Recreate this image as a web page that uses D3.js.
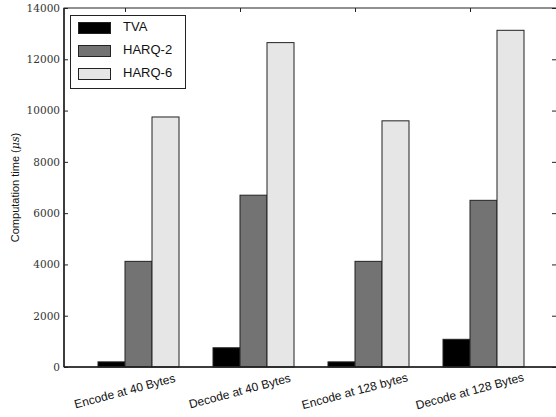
<!DOCTYPE html>
<html><head><meta charset="utf-8">
<script src="https://cdn.jsdelivr.net/npm/d3@7"></script>
<style>body{margin:0;background:#fff}svg{display:block}</style>
</head><body>
<svg id="c" width="556" height="417"></svg>
<script>
const categories = ["Encode at 40 Bytes","Decode at 40 Bytes","Encode at 128 bytes","Decode at 128 Bytes"];
const seriesNames = ["TVA","HARQ-2","HARQ-6"];
const tva   = [200, 750, 200, 1080];
const harq2 = [4120, 6700, 4120, 6500];
const harq6 = [9750, 12650, 9600, 13130];
const yTicks = [0,2000,4000,6000,8000,10000,12000,14000];
const colors = ["#000000","#737373","#e6e6e6"];
const series = [tva, harq2, harq6];

const svg = d3.select("#c");
const L = 64, R = 558, T = 8, B = 367;
const x = d3.scaleLinear().domain([0,3]).range([125,470]);
const bw = 0.2348; // bar width in category units
const y = d3.scaleLinear().domain([0,14000]).range([B,T]);

// bars
series.forEach((vals, s) => {
  svg.append("g").selectAll("rect").data(vals).join("rect")
    .attr("x", (d,i) => x(i + (s-1)*bw))
    .attr("width", x(bw) - x(0))
    .attr("y", d => y(d))
    .attr("height", d => y(0) - y(d))
    .attr("fill", colors[s])
    .attr("stroke", "#222")
    .attr("stroke-width", 1);
});

// frame
svg.append("rect").attr("x",L).attr("y",T).attr("width",R-L).attr("height",B-T)
  .attr("fill","none").attr("stroke","#222").attr("stroke-width",1);

// left axis
const ya = d3.axisLeft(y).tickValues(yTicks).tickSize(-4).tickPadding(4).tickFormat(d3.format("d"));
const gy = svg.append("g").attr("transform",`translate(${L},0)`).call(ya);
gy.select(".domain").remove();
gy.selectAll("line").attr("stroke","#222");
gy.selectAll("text").attr("font-family","'DejaVu Serif', serif").attr("font-size",10.5).attr("fill","#333");

// right ticks
const gr = svg.append("g").attr("transform",`translate(556,0)`).call(d3.axisRight(y).tickValues(yTicks).tickSize(-4).tickFormat(""));
gr.select(".domain").remove();
gr.selectAll("line").attr("stroke","#222");

// top ticks
const gt = svg.append("g").attr("transform",`translate(0,${T})`).call(d3.axisTop(x).tickValues([0,1,2,3]).tickSize(-4).tickFormat(""));
gt.select(".domain").remove();
gt.selectAll("line").attr("stroke","#222");

// bottom / left axis lines emphasised
svg.append("line").attr("x1",L).attr("x2",R).attr("y1",B).attr("y2",B).attr("stroke","#222").attr("stroke-width",1.5);
svg.append("line").attr("x1",L).attr("x2",L).attr("y1",T).attr("y2",B).attr("stroke","#222").attr("stroke-width",1.5);

// x labels rotated
svg.append("g").selectAll("text").data(categories).join("text")
  .attr("transform",(d,i)=>`translate(${x(i)},${392}) rotate(-15)`)
  .attr("text-anchor","middle").attr("dominant-baseline","middle")
  .attr("font-family","'Liberation Sans', Arial, sans-serif").attr("font-size",12).attr("fill","#111")
  .text(d=>d);

// y label
const yl = svg.append("text").attr("transform",`translate(19,${(T+B)/2}) rotate(-90)`)
  .attr("text-anchor","middle")
  .attr("font-family","'Liberation Sans', Arial, sans-serif").attr("font-size",11).attr("fill","#111");
yl.append("tspan").text("Computation time (");
yl.append("tspan").attr("font-style","italic").attr("font-family","'DejaVu Serif', serif").text("μs");
yl.append("tspan").text(")");

// legend
const lg = svg.append("g");
lg.append("rect").attr("x",70.5).attr("y",15.5).attr("width",115).attr("height",73)
  .attr("fill","#fff").attr("stroke","#222").attr("stroke-width",1);
seriesNames.forEach((n,i)=>{
  const cy = 28 + i*23;
  lg.append("rect").attr("x",78.5).attr("y",cy-5.5).attr("width",32).attr("height",11)
    .attr("fill",colors[i]).attr("stroke","#222");
  lg.append("text").attr("x",123).attr("y",cy).attr("dominant-baseline","middle")
    .attr("font-family","'Liberation Sans', Arial, sans-serif").attr("font-size",13).attr("fill","#111").text(n);
});
</script>
</body></html>
